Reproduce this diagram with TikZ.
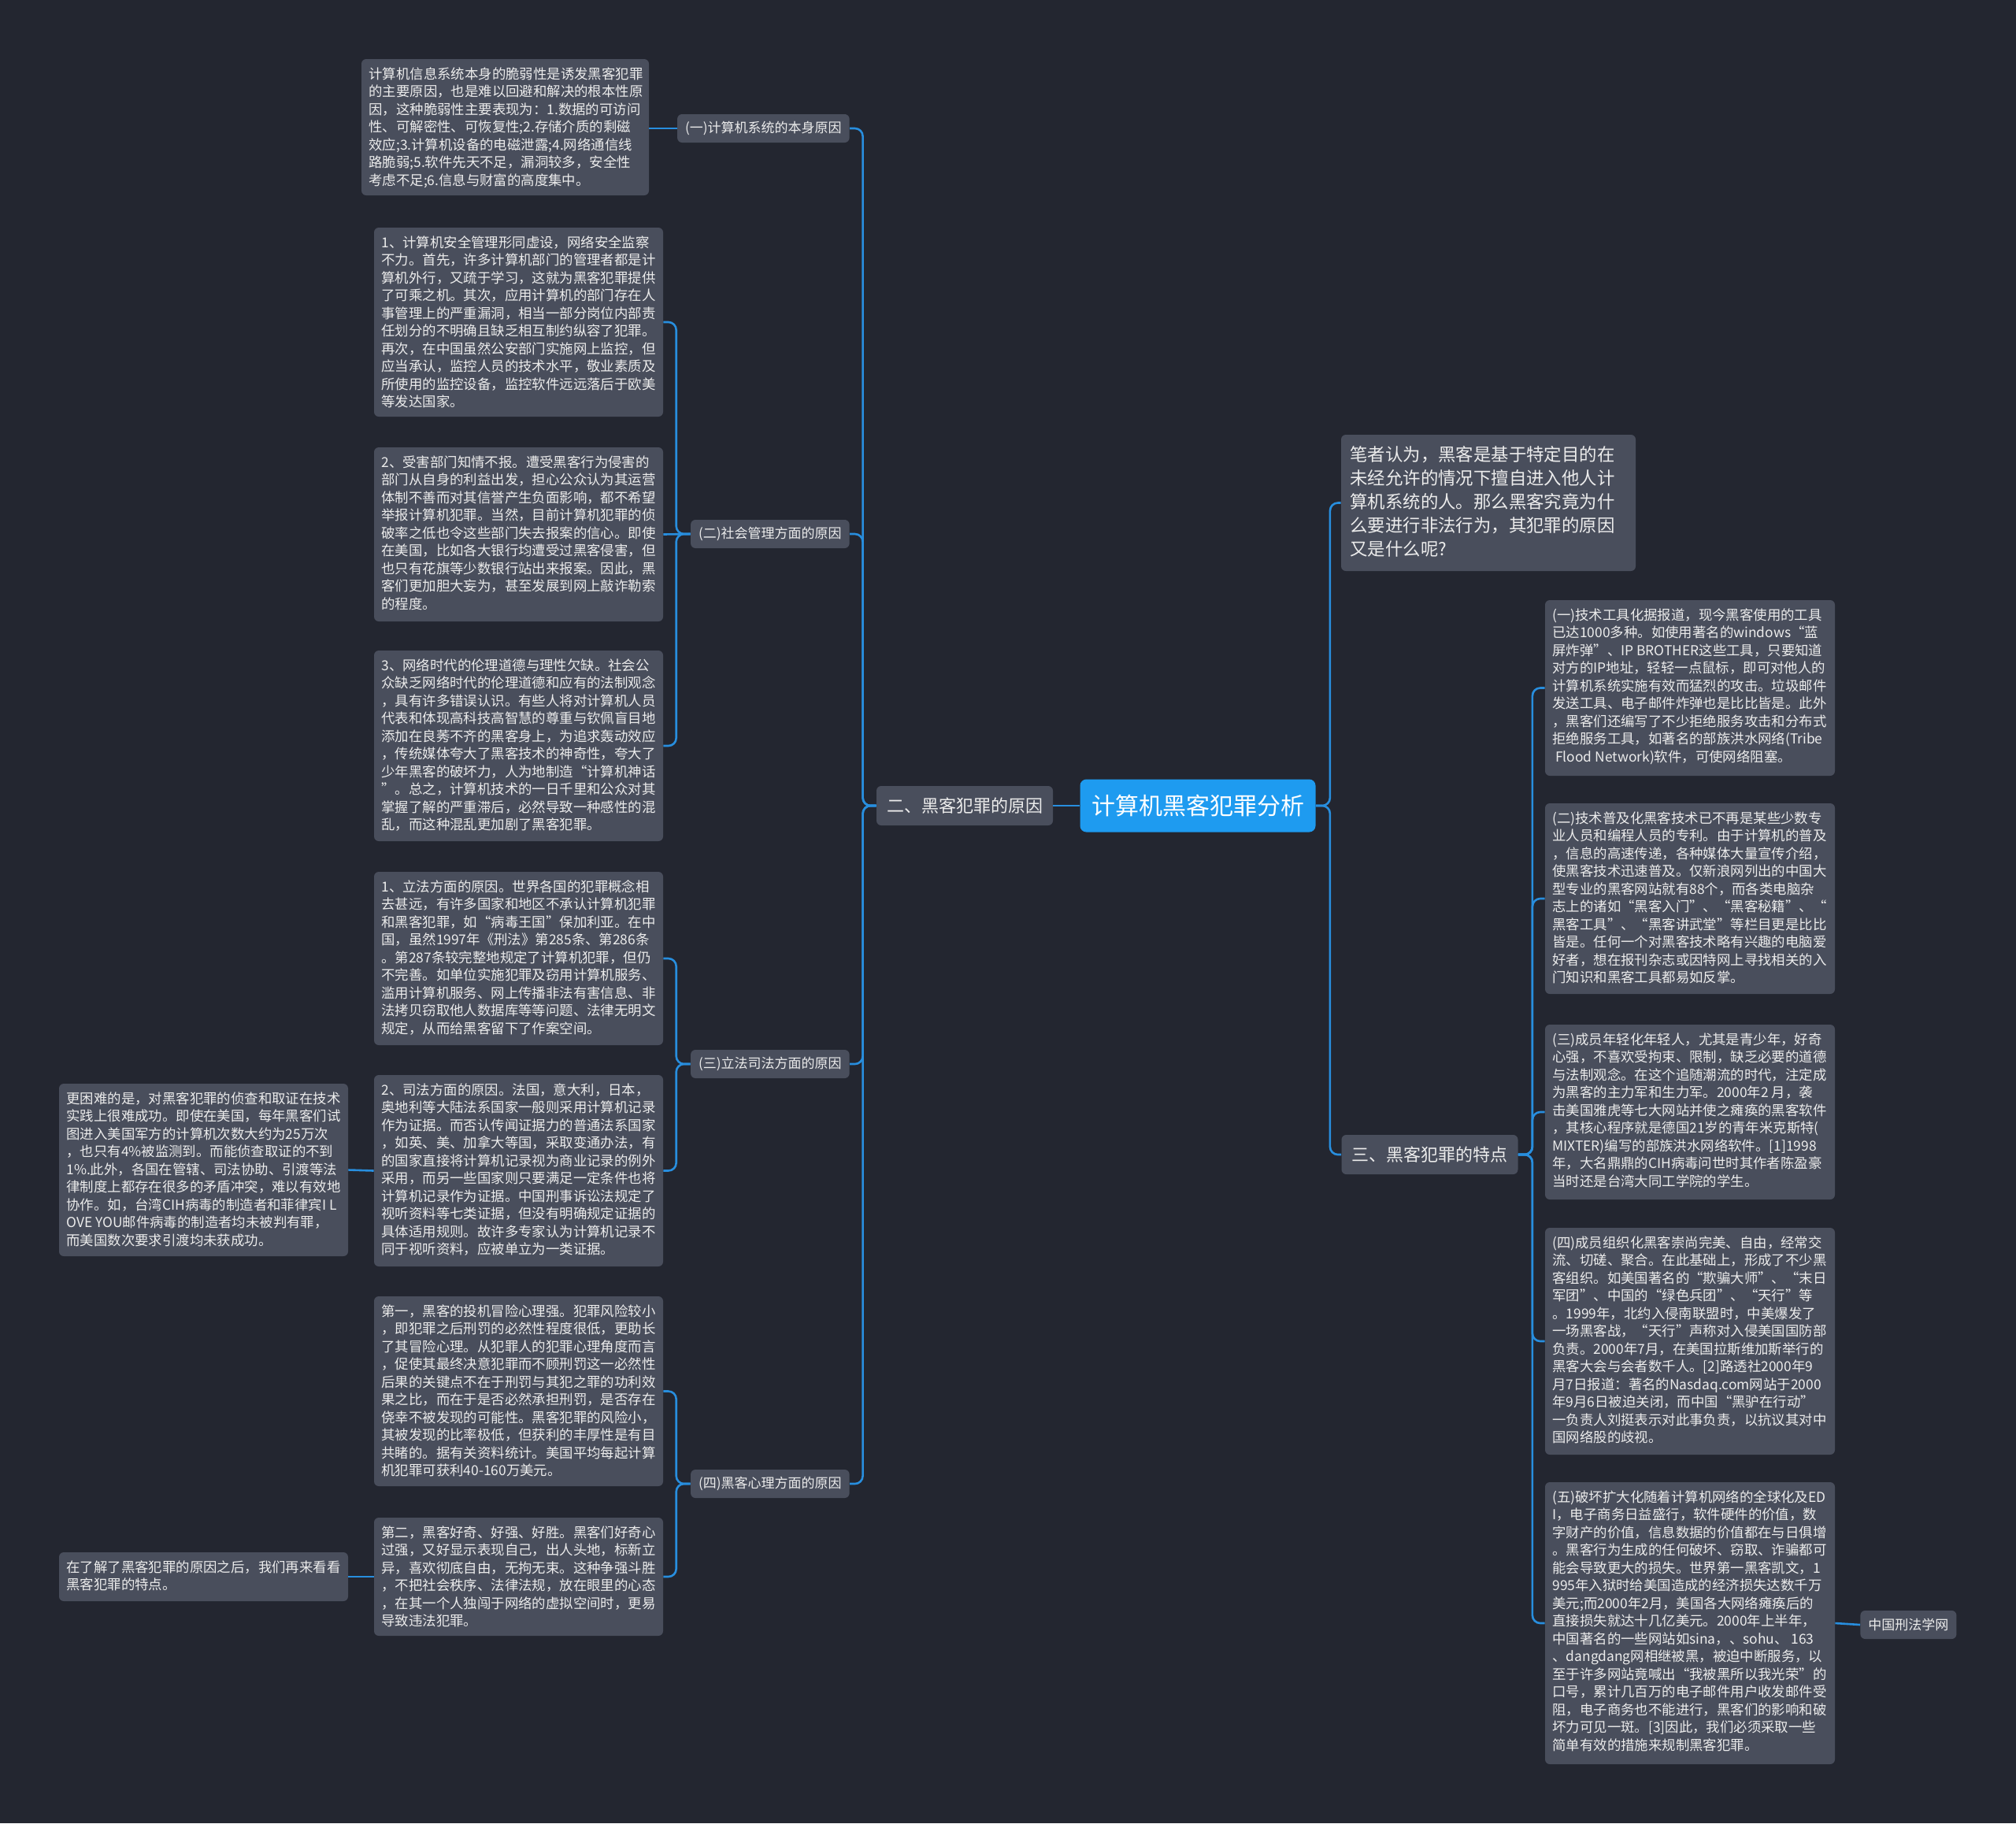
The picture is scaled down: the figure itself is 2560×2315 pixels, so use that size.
\documentclass[tikz,border=0pt]{standalone}
\usepackage{fontspec}
\newfontfamily\cjk{Noto Sans CJK SC}
\definecolor{bgc}{RGB}{35,38,48}
\definecolor{boxc}{RGB}{73,78,92}
\definecolor{txtc}{RGB}{236,236,236}
\definecolor{linec}{RGB}{40,142,222}
\definecolor{centc}{RGB}{30,155,240}
\tikzset{
  conn/.style={draw=linec, line width=1.3pt, rounded corners=5pt},
  boxs/.style={fill=boxc, rounded corners=3pt, inner sep=0pt, draw=none},
  dtext/.style={text=txtc, font=\cjk\fontsize{8.7pt}{11.25pt}\selectfont, align=left, inner sep=0pt, anchor=north west},
  rtext/.style={text=txtc, font=\cjk\fontsize{11.2pt}{15pt}\selectfont, align=left, inner sep=0pt, anchor=north west},
  lvone/.style={fill=boxc, rounded corners=3pt, text=txtc, font=\cjk\fontsize{11pt}{13pt}\selectfont, inner sep=0pt, minimum width=112pt, minimum height=25pt},
  lbl/.style={fill=boxc, rounded corners=3pt, text=txtc, font=\cjk\fontsize{8.5pt}{10pt}\selectfont, inner xsep=5pt, inner ysep=0pt, minimum height=18pt},
  centre/.style={fill=centc, rounded corners=4pt, text=white, font=\cjk\fontsize{15pt}{18pt}\selectfont, inner sep=0pt, minimum width=149.5pt, minimum height=33.5pt}
}
% name, x, y, w, h, text
\newcommand\dbox[6]{%
  \node[boxs, minimum width=#4*0.5pt, minimum height=#5*0.5pt] (#1) at (#2+#4/2, #3+#5/2) {};
  \node[dtext] (#1t) at (#2+9, #3+10) {#6};
}
\begin{document}
\begin{tikzpicture}[x=0.5pt, y=-0.5pt]
\fill[bgc] (0,0) rectangle (2560,2315);
\useasboundingbox (0,0) rectangle (2560,2315);

% central and level one
\node[centre] (c) at (1521,1023) {计算机黑客犯罪分析};
\node[lvone] (er) at (1225,1023) {二、黑客犯罪的原因};
\node[lvone] (san) at (1815.5,1466) {三、黑客犯罪的特点};

% right top box
\node[boxs, minimum width=187pt, minimum height=86.5pt] (r0) at (1890,638.5) {};
\node[rtext] (r0t) at (1714,566) {笔者认为，黑客是基于特定目的在\\未经允许的情况下擅自进入他人计\\算机系统的人。那么黑客究竟为什\\么要进行非法行为，其犯罪的原因\\又是什么呢?};

% level two labels
\node[lbl, anchor=east] (l1) at (1079,163) {(一)计算机系统的本身原因};
\node[lbl, anchor=east] (l2) at (1079,678) {(二)社会管理方面的原因};
\node[lbl, anchor=east] (l3) at (1079,1351) {(三)立法司法方面的原因};
\node[lbl, anchor=east] (l4) at (1079,1884) {(四)黑客心理方面的原因};

% detail boxes left
\dbox{a}{459}{75}{365}{173}{计算机信息系统本身的脆弱性是诱发黑客犯罪\\的主要原因，也是难以回避和解决的根本性原\\因，这种脆弱性主要表现为：1.数据的可访问\\性、可解密性、可恢复性;2.存储介质的剩磁\\效应;3.计算机设备的电磁泄露;4.网络通信线\\路脆弱;5.软件先天不足，漏洞较多，安全性\\考虑不足;6.信息与财富的高度集中。}

\dbox{b1}{475}{289}{367}{240}{1、计算机安全管理形同虚设，网络安全监察\\不力。首先，许多计算机部门的管理者都是计\\算机外行，又疏于学习，这就为黑客犯罪提供\\了可乘之机。其次，应用计算机的部门存在人\\事管理上的严重漏洞，相当一部分岗位内部责\\任划分的不明确且缺乏相互制约纵容了犯罪。\\再次，在中国虽然公安部门实施网上监控，但\\应当承认，监控人员的技术水平，敬业素质及\\所使用的监控设备，监控软件远远落后于欧美\\等发达国家。}

\dbox{b2}{475}{568}{367}{221}{2、受害部门知情不报。遭受黑客行为侵害的\\部门从自身的利益出发，担心公众认为其运营\\体制不善而对其信誉产生负面影响，都不希望\\举报计算机犯罪。当然，目前计算机犯罪的侦\\破率之低也令这些部门失去报案的信心。即使\\在美国，比如各大银行均遭受过黑客侵害，但\\也只有花旗等少数银行站出来报案。因此，黑\\客们更加胆大妄为，甚至发展到网上敲诈勒索\\的程度。}

\dbox{b3}{475}{826}{367}{242}{3、网络时代的伦理道德与理性欠缺。社会公\\众缺乏网络时代的伦理道德和应有的法制观念\\，具有许多错误认识。有些人将对计算机人员\\代表和体现高科技高智慧的尊重与钦佩盲目地\\添加在良莠不齐的黑客身上，为追求轰动效应\\，传统媒体夸大了黑客技术的神奇性，夸大了\\少年黑客的破坏力，人为地制造“计算机神话\\”。总之，计算机技术的一日千里和公众对其\\掌握了解的严重滞后，必然导致一种感性的混\\乱，而这种混乱更加剧了黑客犯罪。}

\dbox{c1}{475}{1107}{367}{220}{1、立法方面的原因。世界各国的犯罪概念相\\去甚远，有许多国家和地区不承认计算机犯罪\\和黑客犯罪，如“病毒王国”保加利亚。在中\\国，虽然1997年《刑法》第285条、第286条\\。第287条较完整地规定了计算机犯罪，但仍\\不完善。如单位实施犯罪及窃用计算机服务、\\滥用计算机服务、网上传播非法有害信息、非\\法拷贝窃取他人数据库等等问题、法律无明文\\规定，从而给黑客留下了作案空间。}

\dbox{c2}{475}{1365}{367}{243}{2、司法方面的原因。法国，意大利，日本，\\奥地利等大陆法系国家一般则采用计算机记录\\作为证据。而否认传闻证据力的普通法系国家\\，如英、美、加拿大等国，采取变通办法，有\\的国家直接将计算机记录视为商业记录的例外\\采用，而另一些国家则只要满足一定条件也将\\计算机记录作为证据。中国刑事诉讼法规定了\\视听资料等七类证据，但没有明确规定证据的\\具体适用规则。故许多专家认为计算机记录不\\同于视听资料，应被单立为一类证据。}

\dbox{c2l}{75}{1376}{367}{219}{更困难的是，对黑客犯罪的侦查和取证在技术\\实践上很难成功。即使在美国，每年黑客们试\\图进入美国军方的计算机次数大约为25万次\\，也只有4\%被监测到。而能侦查取证的不到\\1\%.此外，各国在管辖、司法协助、引渡等法\\律制度上都存在很多的矛盾冲突，难以有效地\\协作。如，台湾CIH病毒的制造者和菲律宾I L\\OVE YOU邮件病毒的制造者均未被判有罪，\\而美国数次要求引渡均未获成功。}

\dbox{d1}{475}{1646}{367}{241}{第一，黑客的投机冒险心理强。犯罪风险较小\\，即犯罪之后刑罚的必然性程度很低，更助长\\了其冒险心理。从犯罪人的犯罪心理角度而言\\，促使其最终决意犯罪而不顾刑罚这一必然性\\后果的关键点不在于刑罚与其犯之罪的功利效\\果之比，而在于是否必然承担刑罚，是否存在\\侥幸不被发现的可能性。黑客犯罪的风险小，\\其被发现的比率极低，但获利的丰厚性是有目\\共睹的。据有关资料统计。美国平均每起计算\\机犯罪可获利40-160万美元。}

\dbox{d2}{475}{1927}{367}{150}{第二，黑客好奇、好强、好胜。黑客们好奇心\\过强，又好显示表现自己，出人头地，标新立\\异，喜欢彻底自由，无拘无束。这种争强斗胜\\，不把社会秩序、法律法规，放在眼里的心态\\，在其一个人独闯于网络的虚拟空间时，更易\\导致违法犯罪。}

\dbox{d2l}{75}{1971}{367}{62}{在了解了黑客犯罪的原因之后，我们再来看看\\黑客犯罪的特点。}

% detail boxes right
\dbox{e1}{1962}{762}{368}{223}{(一)技术工具化据报道，现今黑客使用的工具\\已达1000多种。如使用著名的windows“蓝\\屏炸弹”、IP BROTHER这些工具，只要知道\\对方的IP地址，轻轻一点鼠标，即可对他人的\\计算机系统实施有效而猛烈的攻击。垃圾邮件\\发送工具、电子邮件炸弹也是比比皆是。此外\\，黑客们还编写了不少拒绝服务攻击和分布式\\拒绝服务工具，如著名的部族洪水网络(Tribe\\\ Flood Network)软件，可使网络阻塞。}

\dbox{e2}{1962}{1020}{368}{242}{(二)技术普及化黑客技术已不再是某些少数专\\业人员和编程人员的专利。由于计算机的普及\\，信息的高速传递，各种媒体大量宣传介绍，\\使黑客技术迅速普及。仅新浪网列出的中国大\\型专业的黑客网站就有88个，而各类电脑杂\\志上的诸如“黑客入门”、“黑客秘籍”、“\\黑客工具”、“黑客讲武堂”等栏目更是比比\\皆是。任何一个对黑客技术略有兴趣的电脑爱\\好者，想在报刊杂志或因特网上寻找相关的入\\门知识和黑客工具都易如反掌。}

\dbox{e3}{1962}{1301}{368}{222}{(三)成员年轻化年轻人，尤其是青少年，好奇\\心强，不喜欢受拘束、限制，缺乏必要的道德\\与法制观念。在这个追随潮流的时代，注定成\\为黑客的主力军和生力军。2000年2 月，袭\\击美国雅虎等七大网站并使之瘫痪的黑客软件\\，其核心程序就是德国21岁的青年米克斯特(\\MIXTER)编写的部族洪水网络软件。[1]1998\\年，大名鼎鼎的CIH病毒问世时其作者陈盈豪\\当时还是台湾大同工学院的学生。}

\dbox{e4}{1962}{1559}{368}{288}{(四)成员组织化黑客崇尚完美、自由，经常交\\流、切磋、聚合。在此基础上，形成了不少黑\\客组织。如美国著名的“欺骗大师”、“末日\\军团”、中国的“绿色兵团”、“天行”等\\。1999年，北约入侵南联盟时，中美爆发了\\一场黑客战，“天行”声称对入侵美国国防部\\负责。2000年7月，在美国拉斯维加斯举行的\\黑客大会与会者数千人。[2]路透社2000年9\\月7日报道：著名的Nasdaq.com网站于2000\\年9月6日被迫关闭，而中国“黑驴在行动”\\一负责人刘挺表示对此事负责，以抗议其对中\\国网络股的歧视。}

\dbox{e5}{1962}{1882}{368}{358}{(五)破坏扩大化随着计算机网络的全球化及ED\\I，电子商务日益盛行，软件硬件的价值，数\\字财产的价值，信息数据的价值都在与日俱增\\。黑客行为生成的任何破坏、窃取、诈骗都可\\能会导致更大的损失。世界第一黑客凯文，1\\995年入狱时给美国造成的经济损失达数千万\\美元;而2000年2月，美国各大网络瘫痪后的\\直接损失就达十几亿美元。2000年上半年，\\中国著名的一些网站如sina，、sohu、 163\\、dangdang网相继被黑，被迫中断服务，以\\至于许多网站竟喊出“我被黑所以我光荣”的\\口号，累计几百万的电子邮件用户收发邮件受\\阻，电子商务也不能进行，黑客们的影响和破\\坏力可见一斑。[3]因此，我们必须采取一些\\简单有效的措施来规制黑客犯罪。}

\node[lbl, anchor=west] (wz) at (2362,2063) {中国刑法学网};

% connectors
\draw[conn] (c.west) -- (er.east);
\draw[conn] (c.east) -- ++(18,0) |- (r0.west);
\draw[conn] (c.east) -- ++(18,0) |- (san.west);

\draw[conn] (er.west) -- ++(-17,0) |- (l1.east);
\draw[conn] (er.west) -- ++(-17,0) |- (l2.east);
\draw[conn] (er.west) -- ++(-17,0) |- (l3.east);
\draw[conn] (er.west) -- ++(-17,0) |- (l4.east);

\draw[conn] (l1.west) -- (l1.west -| a.east);
\draw[conn] (l2.west) -- ++(-18,0) |- (b1.east);
\draw[conn] (l2.west) -- (b2.east);
\draw[conn] (l2.west) -- ++(-18,0) |- (b3.east);
\draw[conn] (l3.west) -- ++(-18,0) |- (c1.east);
\draw[conn] (l3.west) -- ++(-18,0) |- (c2.east);
\draw[conn] (c2.west) -- (c2l.east);
\draw[conn] (l4.west) -- ++(-18,0) |- (d1.east);
\draw[conn] (l4.west) -- ++(-18,0) |- (d2.east);
\draw[conn] (d2.west) -- (d2l.east);

\draw[conn] (san.east) -- ++(18,0) |- (e1.west);
\draw[conn] (san.east) -- ++(18,0) |- (e2.west);
\draw[conn] (san.east) -- ++(18,0) |- (e3.west);
\draw[conn] (san.east) -- ++(18,0) |- (e4.west);
\draw[conn] (san.east) -- ++(18,0) |- (e5.west);
\draw[conn] (e5.east) -- (wz.west);
\end{tikzpicture}
\end{document}
